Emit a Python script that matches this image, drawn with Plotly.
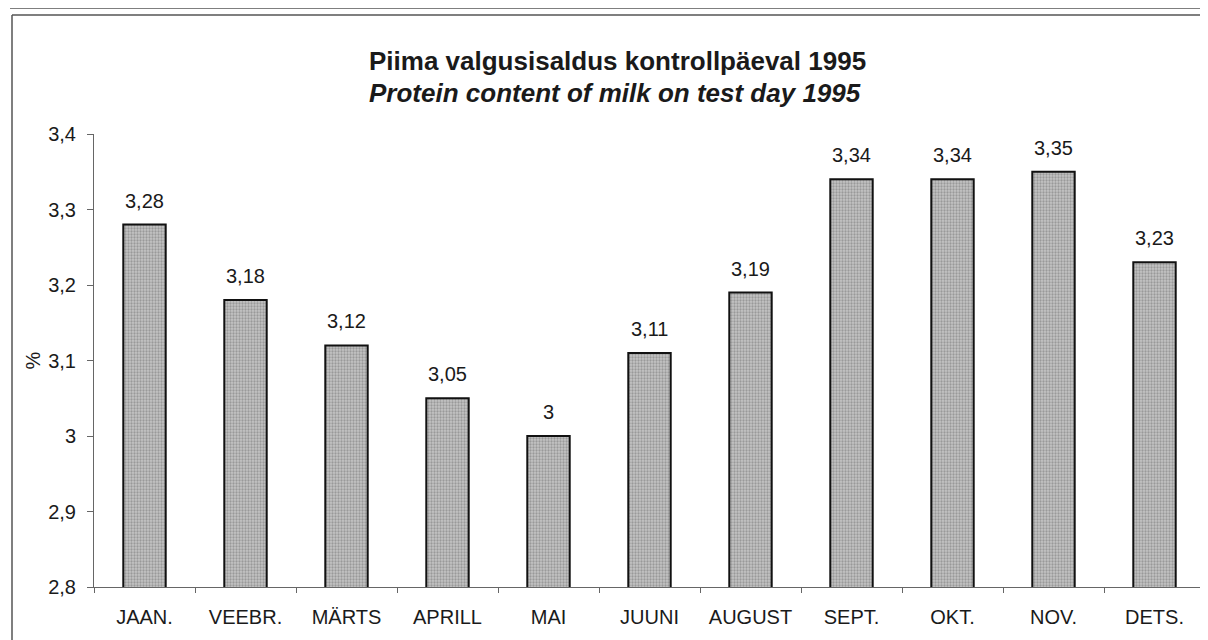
import plotly.graph_objects as go

months = ["JAAN.", "VEEBR.", "MÄRTS", "APRILL", "MAI", "JUUNI", "AUGUST", "SEPT.", "OKT.", "NOV.", "DETS."]
protein = [3.28, 3.18, 3.12, 3.05, 3.00, 3.11, 3.19, 3.34, 3.34, 3.35, 3.23]
yticks = [2.8, 2.9, 3.0, 3.1, 3.2, 3.3, 3.4]
title_et = "Piima valgusisaldus kontrollpäeval 1995"
title_en = "Protein content of milk on test day 1995"

OFF = 8  # page body margin in the browser
W, H = 1208 - OFF, 640 - OFF
# plot area in page pixels
L, R, T, B = 94, 1205, 134, 587
FONT = "Arial, Liberation Sans, sans-serif"
INK = "#1a1a1a"


def px(x):
    return (x - L) / (R - L)


def py(y):
    return (B - y) / (B - T)


def fmt(v):
    return f"{v:g}".replace(".", ",")


fig = go.Figure()
fig.add_trace(go.Bar(
    x=months, y=protein,
    marker=dict(
        color="#b0b0b0",
        line=dict(color="#111111", width=2),
        pattern=dict(shape=".", fgcolor="#6e6e6e", bgcolor="#c4c4c4", size=3, solidity=0.45),
    ),
    width=0.42,
    hoverinfo="skip",
))

for m, v in zip(months, protein):
    fig.add_annotation(x=m, y=v, text=fmt(v), showarrow=False, yanchor="bottom",
                       yshift=11, font=dict(family=FONT, size=20, color=INK))

fig.add_annotation(xref="paper", yref="paper", x=px(617), y=py(61), xanchor="center", yanchor="middle",
                   text=f"<b>{title_et}</b>",
                   showarrow=False, font=dict(family=FONT, size=26, color=INK))
fig.add_annotation(xref="paper", yref="paper", x=px(615), y=py(93), xanchor="center", yanchor="middle",
                   text=f"<b><i>{title_en}</i></b>",
                   showarrow=False, font=dict(family=FONT, size=26, color=INK))

frame = dict(color="#555555", width=1.5)
shapes = [
    dict(type="line", xref="paper", yref="paper", x0=px(12), x1=px(12), y0=py(15), y1=py(660), line=frame),
    dict(type="line", xref="paper", yref="paper", x0=px(12), x1=px(1220), y0=py(15), y1=py(15), line=frame),
    dict(type="line", xref="paper", yref="paper", x0=px(10), x1=px(1220), y0=py(8), y1=py(8), line=frame),
]

fig.update_layout(
    width=W, height=H,
    margin=dict(l=L - OFF, r=W + OFF - R, t=T - OFF, b=H + OFF - B),
    paper_bgcolor="white", plot_bgcolor="white",
    separators=", ",
    showlegend=False,
    shapes=shapes,
    font=dict(family=FONT, size=20, color=INK),
)
fig.update_xaxes(
    showline=True, linecolor="#666666", linewidth=1,
    ticks="outside", ticklen=5, tickcolor="#666666", tickson="boundaries",
    ticklabelstandoff=12,
    tickfont=dict(family=FONT, size=20, color=INK),
    showgrid=False, fixedrange=True,
)
fig.update_yaxes(
    range=[2.8, 3.4], tickvals=yticks, ticktext=[fmt(t) for t in yticks],
    showline=True, linecolor="#666666", linewidth=1,
    ticks="outside", ticklen=6, tickcolor="#666666",
    ticklabelstandoff=7,
    tickfont=dict(family=FONT, size=20, color=INK),
    showgrid=False, zeroline=False, fixedrange=True,
    title=dict(text="%", standoff=2, font=dict(family=FONT, size=20, color=INK)),
)

fig.write_html("out.html")
